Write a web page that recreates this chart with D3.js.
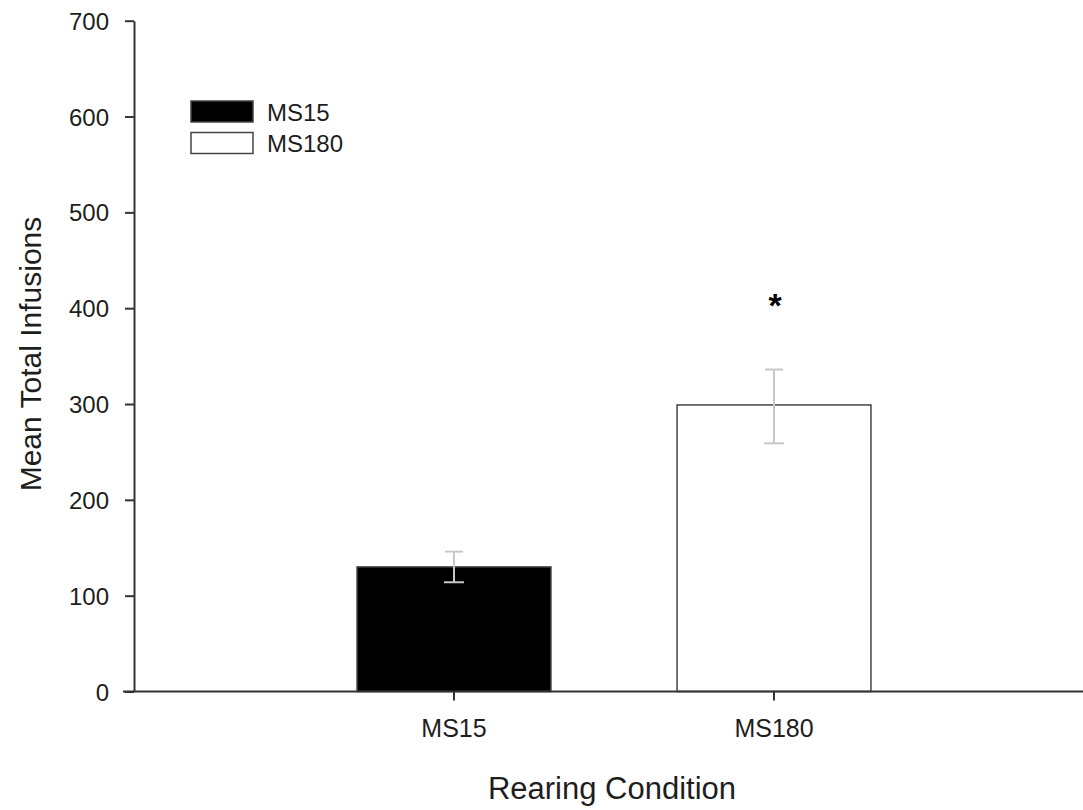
<!DOCTYPE html>
<html>
<head>
<meta charset="utf-8">
<script src="https://cdn.jsdelivr.net/npm/d3@7"></script>
<style>
  body { margin: 0; background: #fff; }
  text { font-family: "Liberation Sans", Arial, sans-serif; fill: #1e1e1e; }
</style>
</head>
<body>
<div id="chart"></div>
<script>
// values
const conditions = ['MS15', 'MS180'];
const means = [130, 299];
const errUpper = [146, 336];
const errLower = [114, 259];
const barFills = ['#000000', '#ffffff'];
const yTicks = [0, 100, 200, 300, 400, 500, 600, 700];
const sigMarks = ['', '*'];

const W = 1083, H = 810;

const svg = d3.select('#chart').append('svg')
    .attr('width', W)
    .attr('height', H);

const x = d3.scaleBand()
    .domain(conditions)
    .range([294, 934])
    .paddingInner(0.394)
    .paddingOuter(0.197);

const y = d3.scaleLinear()
    .domain([0, 700])
    .range([691.5, 20.7]);

const axisX = 134;

// bars
svg.selectAll('.bar')
    .data(conditions)
    .enter().append('rect')
    .attr('class', 'bar')
    .attr('x', d => x(d))
    .attr('y', (d, i) => y(means[i]))
    .attr('width', x.bandwidth())
    .attr('height', (d, i) => y(0) - y(means[i]))
    .attr('fill', (d, i) => barFills[i])
    .attr('stroke', '#444')
    .attr('stroke-width', 1.5);

// error bars
const err = svg.selectAll('.err')
    .data(conditions)
    .enter().append('g')
    .attr('class', 'err')
    .attr('stroke', '#c8c8c8')
    .attr('stroke-width', 2);

err.append('line')
    .attr('x1', d => x(d) + x.bandwidth() / 2)
    .attr('x2', d => x(d) + x.bandwidth() / 2)
    .attr('y1', (d, i) => y(errUpper[i]))
    .attr('y2', (d, i) => y(errLower[i]));
err.append('line')
    .attr('x1', d => x(d) + x.bandwidth() / 2 - 9)
    .attr('x2', d => x(d) + x.bandwidth() / 2 + 9)
    .attr('y1', (d, i) => y(errUpper[i]))
    .attr('y2', (d, i) => y(errUpper[i]));
err.append('line')
    .attr('x1', d => x(d) + x.bandwidth() / 2 - 10)
    .attr('x2', d => x(d) + x.bandwidth() / 2 + 10)
    .attr('y1', (d, i) => y(errLower[i]))
    .attr('y2', (d, i) => y(errLower[i]));

// significance asterisk
svg.selectAll('.sig')
    .data(conditions)
    .enter().append('text')
    .attr('class', 'sig')
    .attr('x', d => x(d) + x.bandwidth() / 2 + 1)
    .attr('y', (d, i) => y(errUpper[i]) - 53)
    .attr('text-anchor', 'middle')
    .style('font-size', '34px')
    .style('font-weight', 'bold')
    .style('fill', '#000')
    .text((d, i) => sigMarks[i]);

// y axis
const gy = svg.append('g')
    .attr('transform', 'translate(' + axisX + ',0)')
    .call(d3.axisLeft(y).tickValues(yTicks).tickSize(9).tickSizeOuter(0).tickPadding(16));
gy.select('.domain').attr('stroke', '#333').attr('stroke-width', 2);
gy.selectAll('.tick line').attr('stroke', '#333').attr('stroke-width', 2);
gy.selectAll('.tick text')
    .style('font-size', '24px')
    .attr('dy', '0.36em');

// x axis
const gx = svg.append('g')
    .attr('transform', 'translate(0,' + y(0) + ')');
gx.append('line')
    .attr('x1', 123)
    .attr('x2', W)
    .attr('stroke', '#333')
    .attr('stroke-width', 2);
gx.call(d3.axisBottom(x).tickSize(9).tickSizeOuter(0).tickPadding(19));
gx.select('.domain').remove();
gx.selectAll('.tick line').attr('stroke', '#333').attr('stroke-width', 2);
gx.selectAll('.tick text').style('font-size', '25px');

// axis titles
svg.append('text')
    .attr('transform', 'translate(41,354) rotate(-90)')
    .attr('text-anchor', 'middle')
    .style('font-size', '30px')
    .text('Mean Total Infusions');

svg.append('text')
    .attr('x', 612)
    .attr('y', 799)
    .attr('text-anchor', 'middle')
    .style('font-size', '31px')
    .text('Rearing Condition');

// legend
const legend = svg.selectAll('.legend')
    .data(conditions)
    .enter().append('g')
    .attr('class', 'legend')
    .attr('transform', (d, i) => 'translate(191,' + (101 + i * 31.5) + ')');
legend.append('rect')
    .attr('width', 62)
    .attr('height', 21)
    .attr('fill', (d, i) => barFills[i])
    .attr('stroke', '#444')
    .attr('stroke-width', 1.5);
legend.append('text')
    .attr('x', 76)
    .attr('y', 11)
    .attr('dy', '0.36em')
    .style('font-size', '24px')
    .text(d => d);
</script>
</body>
</html>
